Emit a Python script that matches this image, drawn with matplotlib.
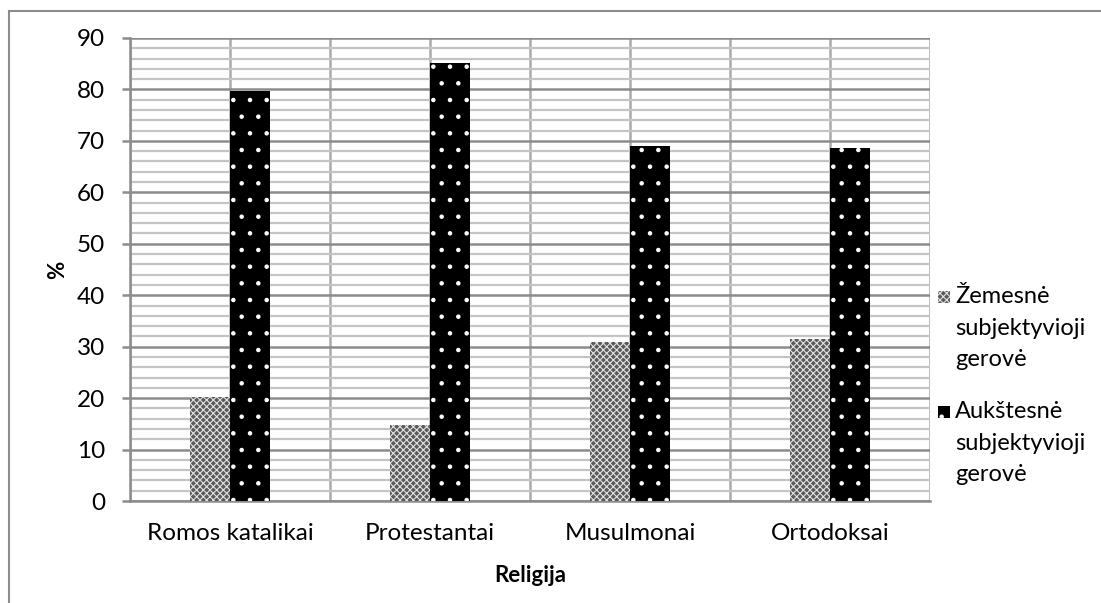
import matplotlib
matplotlib.use('Agg')
import matplotlib.pyplot as plt
import numpy as np
from matplotlib.patches import Rectangle
from matplotlib.lines import Line2D

# Chart data
categories = ['Romos katalikai', 'Protestantai', 'Musulmonai', 'Ortodoksai']
lower_wellbeing = [20.3, 14.8, 30.9, 31.4]
higher_wellbeing = [79.7, 85.2, 69.1, 68.6]
series_labels = ['Žemesnė\nsubjektyvioji\ngerovė', 'Aukštesnė\nsubjektyvioji\ngerovė']
y_ticks = [0, 10, 20, 30, 40, 50, 60, 70, 80, 90]

plt.rcParams['font.family'] = ['Lato', 'DejaVu Sans']
plt.rcParams['hatch.linewidth'] = 0.8

W, H = 1101, 603
fig = plt.figure(figsize=(W / 100, H / 100), dpi=100)
ax = fig.add_axes([130 / W, 1 - 501 / H, 800 / W, 463 / H])

x = np.arange(len(categories))
bw = 0.2

# lower bars: fine grey checker look
ax.bar(x - bw / 2, lower_wellbeing, bw, color='#5a5a5a', edgecolor='#e2e2e2',
       hatch='xxxxx', linewidth=0, zorder=3)
# higher bars: black with white dots
ax.bar(x + bw / 2, higher_wellbeing, bw, color='black', edgecolor='white',
       hatch='.', linewidth=0, zorder=3)

ax.set_xlim(-0.5, len(categories) - 0.5)
ax.set_ylim(0, 90)
ax.set_yticks(y_ticks)
ax.set_yticks(np.arange(0, 91, 2), minor=True)
ax.set_xticks(x)
ax.set_xticklabels(categories)
ax.set_xticks(np.arange(-0.5, len(categories), 1), minor=True)

ax.grid(True, which='minor', axis='y', color='#c4c4c4', linewidth=1.6, zorder=0)
ax.grid(True, which='major', axis='y', color='#8c8c8c', linewidth=1.8, zorder=1)
ax.grid(True, which='both', axis='x', color='#ababab', linewidth=1.8, zorder=1)

for s in ['top', 'right']:
    ax.spines[s].set_visible(False)
ax.spines['left'].set_color('#8c8c8c')
ax.spines['bottom'].set_color('#8c8c8c')
ax.spines['left'].set_linewidth(1.8)
ax.spines['bottom'].set_linewidth(1.8)

ax.tick_params(axis='y', which='major', length=6, width=1.8, color='#8c8c8c',
               pad=12, labelsize=17.5)
ax.tick_params(axis='y', which='minor', length=0)
ax.tick_params(axis='x', which='both', length=0, pad=16, labelsize=17.5)

ax.set_ylabel('%', fontsize=16, fontweight='bold', labelpad=6)
ax.set_xlabel('Religija', fontsize=16, fontweight='bold', labelpad=15)

# legend drawn by hand
leg_y = [297, 412]
hatches = [('#5a5a5a', '#e2e2e2', 'xxxxx'), ('black', 'white', '.')]
for (fc, ec, hp), lab, yy in zip(hatches, series_labels, leg_y):
    fig.patches.append(Rectangle((938 / W, 1 - (yy + 6) / H), 12 / W, 12 / H,
                                 transform=fig.transFigure, facecolor=fc,
                                 edgecolor=ec, hatch=hp, linewidth=0))
    fig.text(955 / W, 1 - (yy - 11) / H, lab, fontsize=17, va='top', ha='left',
             linespacing=1.62)

# outer chart frame
fig.add_artist(Line2D([9 / W, 9 / W], [0, 1 - 11 / H], transform=fig.transFigure,
                      color='#8c8c8c', linewidth=1.5))
fig.add_artist(Line2D([9 / W, 1], [1 - 11 / H, 1 - 11 / H], transform=fig.transFigure,
                      color='#8c8c8c', linewidth=1.5))

fig.savefig('out.png', dpi=100)
